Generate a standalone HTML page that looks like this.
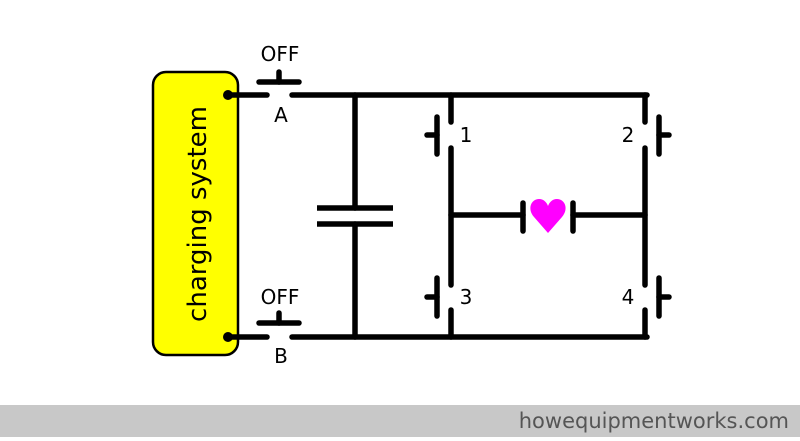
<!DOCTYPE html>
<html><head><style>
body{margin:0;width:800px;height:437px;overflow:hidden;background:#fff;font-family:"DejaVu Sans","Liberation Sans",sans-serif}
</style></head><body>
<svg width="800" height="437" viewBox="0 0 800 437" xmlns="http://www.w3.org/2000/svg">
<rect x="0" y="405" width="800" height="32" fill="#c8c8c8"/>
<text x="789" y="428" text-anchor="end" font-size="21" fill="#555" font-family="DejaVu Sans, sans-serif">howequipmentworks.com</text>
<rect x="153" y="72" width="85" height="283" rx="13" fill="#ffff00" stroke="#000" stroke-width="2.5"/>
<text transform="translate(206,214) rotate(-90)" text-anchor="middle" font-size="26" fill="#000">charging system</text>
<g stroke="#000" stroke-width="5.5" fill="none" stroke-linecap="round">
<line x1="228" y1="95" x2="267" y2="95"/>
<line x1="292" y1="95" x2="647" y2="95"/>
<line x1="228" y1="337" x2="267" y2="337"/>
<line x1="292" y1="337" x2="647" y2="337"/>
<line x1="259" y1="82" x2="299" y2="82"/><line x1="279" y1="72" x2="279" y2="82"/>
<line x1="259" y1="323" x2="299" y2="323"/><line x1="279" y1="313" x2="279" y2="323"/>
<line x1="355" y1="95" x2="355" y2="208"/><line x1="355" y1="224" x2="355" y2="337"/>
<line x1="317" y1="208" x2="393" y2="208" stroke-linecap="butt"/><line x1="317" y1="224" x2="393" y2="224" stroke-linecap="butt"/>
<line x1="451" y1="95" x2="451" y2="122"/><line x1="451" y1="148" x2="451" y2="285"/><line x1="451" y1="310" x2="451" y2="337"/>
<line x1="645" y1="95" x2="645" y2="122"/><line x1="645" y1="148" x2="645" y2="285"/><line x1="645" y1="310" x2="645" y2="337"/>
<line x1="437" y1="117" x2="437" y2="154"/><line x1="427" y1="135" x2="437" y2="135"/>
<line x1="437" y1="278" x2="437" y2="316"/><line x1="427" y1="297" x2="437" y2="297"/>
<line x1="659" y1="117" x2="659" y2="154"/><line x1="659" y1="135" x2="669" y2="135"/>
<line x1="659" y1="278" x2="659" y2="316"/><line x1="659" y1="297" x2="669" y2="297"/>
<line x1="451" y1="215" x2="523" y2="215"/><line x1="573" y1="215" x2="645" y2="215"/>
<line x1="523" y1="203" x2="523" y2="231"/><line x1="573" y1="203" x2="573" y2="231"/>
</g>
<circle cx="228" cy="95" r="5" fill="#000"/><circle cx="228" cy="337" r="5" fill="#000"/>
<path d="M548 233 L534 217 C527 209 531 199 539 199 C544 199 547 203 548 206 C549 203 552 199 557 199 C565 199 569 209 562 217 Z" fill="#ff00ff"/>
<g font-size="20" fill="#000" text-anchor="middle">
<text x="280" y="61">OFF</text><text x="281" y="122">A</text>
<text x="280" y="304">OFF</text><text x="281" y="363">B</text>
<text x="466" y="142">1</text><text x="628" y="142">2</text>
<text x="466" y="304">3</text><text x="628" y="304">4</text>
</g>
</svg>
</body></html>
